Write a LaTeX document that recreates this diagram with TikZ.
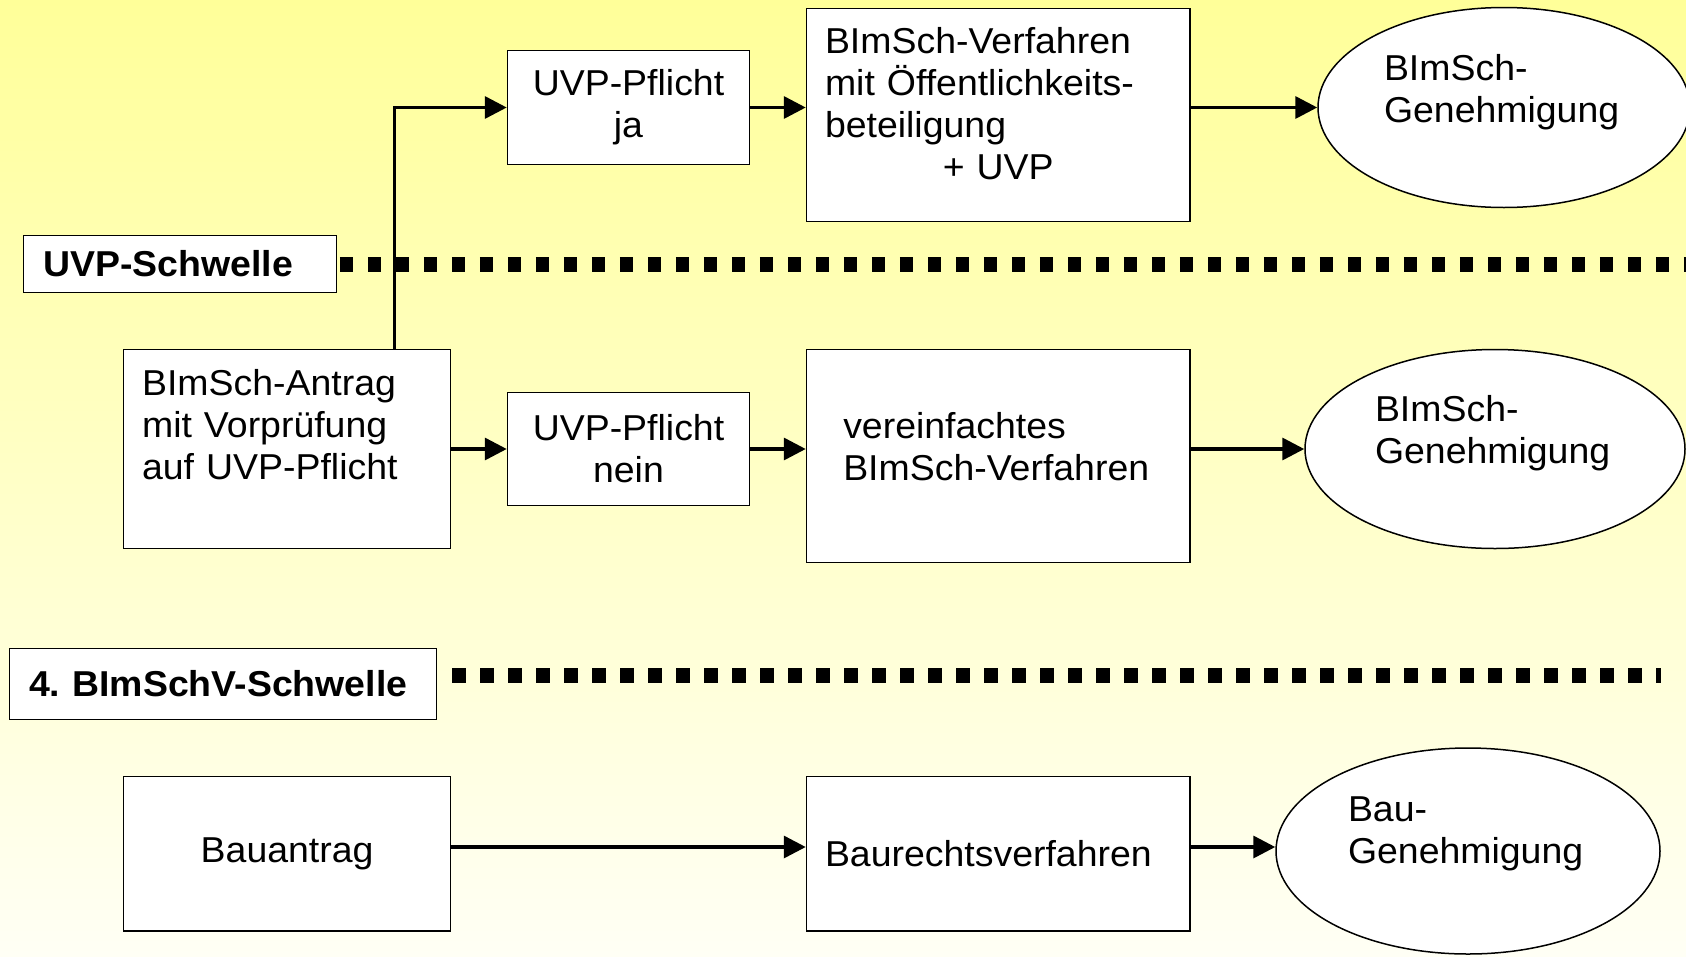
\documentclass[tikz,border=0pt]{standalone}
\usepackage{fontspec}
\setmainfont{Liberation Sans}[FakeStretch=1.04]
\usetikzlibrary{arrows.meta,shapes.geometric}
\definecolor{gelb}{RGB}{255,255,153}
\definecolor{hell}{RGB}{255,255,245}
\begin{document}
\begin{tikzpicture}[x=1pt,y=-1pt]
    \def\tief#1{\vrule width 0pt height 0pt depth #1}
    \tikzset{kasten/.style={draw,fill=white,line width=1.5pt,rectangle,inner sep=0pt,font=\fontsize{36}{42}\selectfont},
        oval/.style={kasten,ellipse,align=left,text width=240pt},
        schw/.style={kasten,font=\fontsize{36}{42}\selectfont\bfseries,align=left},
        pfeil/.style={line width=3.5pt,-{Triangle[length=22pt,width=22pt]}},
        punkte/.style={line width=15pt,dash pattern=on 13.5pt off 14.5pt}}
    \useasboundingbox(0,0)rectangle(1686,956);
    \clip(0,0)rectangle(1686,956);
    \fill[top color=gelb,bottom color=hell](0,0)rectangle(1686,956);
    % obere Reihe
    \path(628.5,107.5)node[kasten,minimum width=242pt,minimum height=114pt,align=center](ja){UVP-Pflicht\\ja}
        (998.25,115)node[kasten,minimum width=383.5pt,minimum height=213pt,text width=346.5pt,align=left](verf){BImSch-Verfahren\\mit Öffentlichkeits-\\beteiligung\\\makebox[\linewidth]{+ UVP}\tief{24pt}}
        (1504,107.5)node[oval,minimum width=372pt,minimum height=200pt](gen1){BImSch-\\Genehmigung\tief{38pt}};
    \path(180.15,264)node[schw,minimum width=313pt,minimum height=57pt,text width=274pt](s1){UVP-Schwelle};
    % mittlere Reihe
    \path(287.1,449)node[kasten,minimum width=326.8pt,minimum height=199pt,text width=290pt,align=left](antrag){BImSch-Antrag\\mit Vorprüfung\\auf UVP-Pflicht\tief{49pt}}
        (628.5,449)node[kasten,minimum width=242pt,minimum height=113pt,align=center](nein){UVP-Pflicht\\nein}
        (998.25,456)node[kasten,minimum width=383.5pt,minimum height=213pt,text width=310pt,align=left](vereinf){vereinfachtes\\BImSch-Verfahren\tief{19pt}}
        (1495,449)node[oval,minimum width=380pt,minimum height=199pt](gen2){BImSch-\\Genehmigung\tief{40pt}};
    \path(223.15,684)node[schw,minimum width=427pt,minimum height=71pt,text width=388pt](s2){4.\ BImSchV-Schwelle};
    % untere Reihe
    \coordinate(z3)at(0,847);
    \path(287.1,853.8)node[kasten,minimum width=326.8pt,minimum height=154.8pt,align=center](bau){Bauantrag}
        (998.25,853.8)node[kasten,minimum width=383.5pt,minimum height=154.8pt,text width=346.5pt,align=left](baur){Baurechtsverfahren}
        (1468,851)node[oval,minimum width=384pt,minimum height=206pt](gen3){Bau-\\Genehmigung\tief{42pt}};
    % Schwellen
    \coordinate(r1)at(1700,264);
    \coordinate(r2)at(1661,675.5);
    \path(s2.east|-r2)++(15,0)coordinate(l2);
    \draw[punkte]([xshift=2.5pt]s1.east)--(r1);
    \draw[punkte](l2)--(r2);
    % Pfeile
    \draw[pfeil]([xshift=107.5pt]antrag.north)|-(ja.west);
    \foreach \a/\b/\r in {
        ja/verf/ja,verf/gen1/ja,
        antrag/nein/nein,nein/vereinf/nein,vereinf/gen2/nein,
        bau/baur/z3,baur/gen3/z3}
    \draw[pfeil](\a.east|-\r)--(\b.west|-\r);
\end{tikzpicture}
\end{document}
